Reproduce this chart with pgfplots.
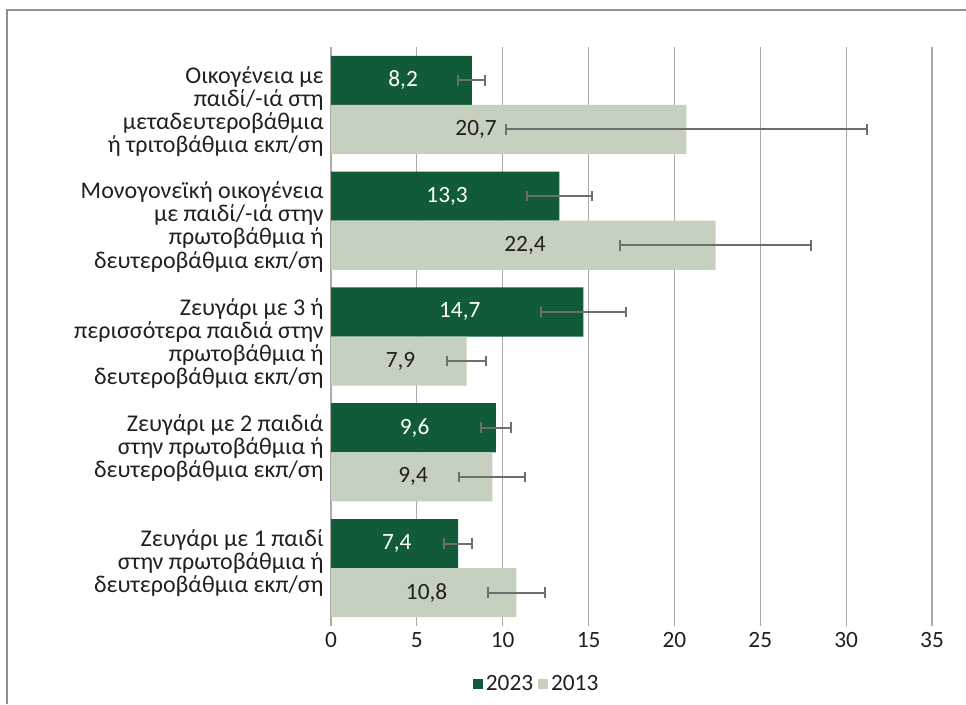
\documentclass[border=0pt]{standalone}
\usepackage{pgfplots}
\pgfplotsset{compat=1.18}
\usepackage{fontspec}
\setmainfont{Carlito}
\definecolor{dkg}{HTML}{115B39}
\definecolor{ltg}{HTML}{C5D0BF}
\definecolor{lgd}{HTML}{93AC94}
\definecolor{errc}{HTML}{6E6E6E}
\definecolor{gridc}{HTML}{ABABAB}
\definecolor{txt}{HTML}{231F20}
\definecolor{frame}{HTML}{909090}
\newcommand{\lf}{\fontsize{18pt}{17.3pt}\selectfont}
\newcommand{\tf}{\fontsize{17.5pt}{19pt}\selectfont}
\begin{document}
\begin{tikzpicture}[x=0.75pt,y=0.75pt]
\useasboundingbox (0,0) rectangle (966,704);
\draw[frame, line width=1.5pt] (7,0) -- (7,694) -- (966,694);
\coordinate (O) at (331,78);
\begin{axis}[
  at={(O)}, anchor=south west,
  scale only axis, width=450.75pt, height=434.25pt,
  xmin=0, xmax=35, ymin=-0.5, ymax=4.5, y dir=reverse,
  xtick={0,5,...,35}, ytick={0.055,1.055,2.058,2.965,3.957},
  yticklabels={{Οικογένεια με\\παιδί/-ιά στη\\μεταδευτεροβάθμια\\ή τριτοβάθμια εκπ/ση},
    {Μονογονεϊκή οικογένεια\\με παιδί/-ιά στην\\πρωτοβάθμια ή\\δευτεροβάθμια εκπ/ση},
    {Ζευγάρι με 3 ή\\περισσότερα παιδιά στην\\πρωτοβάθμια ή\\δευτεροβάθμια εκπ/ση},
    {Ζευγάρι με 2 παιδιά\\στην πρωτοβάθμια ή\\δευτεροβάθμια εκπ/ση},
    {Ζευγάρι με 1 παιδί\\στην πρωτοβάθμια ή\\δευτεροβάθμια εκπ/ση}},
  yticklabel style={align=right, font=\lf, text=txt, xshift=-2pt},
  xticklabel style={font=\tf, text=txt, yshift=-1pt},
  /pgf/number format/assume math mode=true,
  major tick length=0pt,
  axis line style={draw=none},
  xmajorgrids, grid style={gridc, line width=0.9pt},
  legend style={at={(0.343,-0.1)}, anchor=center, draw=none, legend columns=2,
    font=\tf, text=txt, inner sep=0pt,
    /tikz/every even column/.append style={column sep=2pt}},
  legend image code/.code={\fill[#1] (1pt,-3.7pt) rectangle (8.4pt,3.7pt);},
  bar width=0.424, 
  error bars/error mark=|,
  error bars/error bar style={draw=errc, line width=1.5pt},
  error bars/error mark options={draw=errc, line width=1.5pt, mark size=4pt},
]
\addplot[xbar, fill=dkg, draw=none, bar shift=0,
  error bars/.cd, x dir=both, x explicit]
  table[x=v, y=y, x error=e] {
  v y e
  8.2 -0.212 0.78
  13.3 0.788 1.9
  14.7 1.788 2.48
  9.6 2.788 0.87
  7.4 3.788 0.8
};
\addplot[xbar, fill=ltg, draw=none, bar shift=0,
  error bars/.cd, x dir=both, x explicit]
  table[x=v, y=y, x error=e] {
  v y e
  20.7 0.212 10.52
  22.4 1.212 5.55
  7.9 2.212 1.15
  9.4 3.212 1.92
  10.8 4.212 1.65
};
\addplot[draw=none, mark=none, nodes near coords, point meta=explicit symbolic,
  nodes near coords align=center,
  every node near coord/.append style={white, font=\tf}]
  table[x=x, y=y, meta=l] {
  x y l
  4.2 -0.212 8,2
  6.76 0.788 13,3
  7.5 1.788 14,7
  4.87 2.788 9,6
  3.83 3.788 7,4
};
\addplot[draw=none, mark=none, nodes near coords, point meta=explicit symbolic,
  nodes near coords align=center,
  every node near coord/.append style={text=txt, font=\tf}]
  table[x=x, y=y, meta=l] {
  x y l
  8.45 0.212 20,7
  11.3 1.212 22,4
  4.05 2.212 7,9
  4.78 3.212 9,4
  5.57 4.212 10,8
};
\addlegendimage{dkg}
\addlegendentry{2023}
\addlegendimage{lgd}
\addlegendentry{2013}
\end{axis}
\end{tikzpicture}
\end{document}
